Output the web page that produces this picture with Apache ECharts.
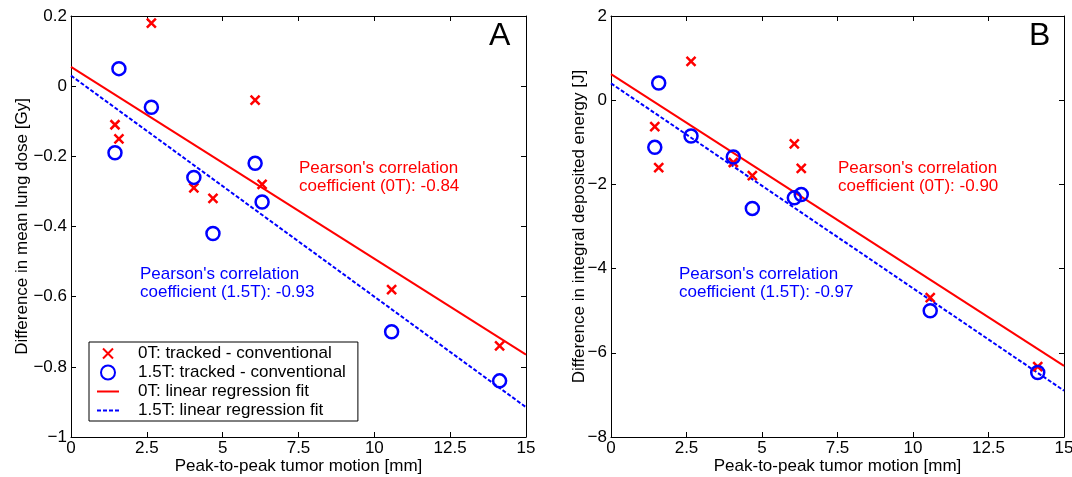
<!DOCTYPE html>
<html>
<head>
<meta charset="utf-8">
<script src="https://cdn.jsdelivr.net/npm/echarts@6/dist/echarts.min.js"></script>
<style>
  html, body { margin: 0; padding: 0; background: #fff; }
  #chart { width: 1072px; height: 477px; }
</style>
</head>
<body>
<div id="chart"></div>
<script>
// peak-to-peak motion [mm], same patients in both panels
var motion = [1.45, 1.58, 2.65, 4.05, 4.68, 6.07, 6.3, 10.57, 14.13];

// A: difference in mean lung dose [Gy]
var doseZeroT = [-0.11, -0.15, 0.18, -0.29, -0.32, -0.04, -0.28, -0.58, -0.74];
var doseOneFiveT = [-0.19, 0.05, -0.06, -0.26, -0.42, -0.22, -0.33, -0.70, -0.84];
var doseFitZeroT = [[0, 0.055], [15, -0.765]];
var doseFitOneFiveT = [[0, 0.03], [15, -0.915]];

// B: difference in integral deposited energy [J]
var energyZeroT = [-0.63, -1.60, 0.92, -1.48, -1.79, -1.04, -1.62, -4.69, -6.33];
var energyOneFiveT = [-1.12, 0.41, -0.85, -1.35, -2.57, -2.32, -2.24, -5.0, -6.47];
var energyFitZeroT = [[0, 0.62], [15, -6.31]];
var energyFitOneFiveT = [[0, 0.40], [15, -6.90]];

var xTicks = [0, 2.5, 5, 7.5, 10, 12.5, 15];

var FONT = '"Liberation Sans", Arial, sans-serif';
var FS = 17;
var RED = '#ff0000';
var BLUE = '#0000ff';
var crossPath = 'path://M0,0L10,10M10,0L0,10';
// legend icons: the leading / trailing moveTo keeps the 22x14 box
var crossIcon = 'path://M0,0M6,2L16,12M16,2L6,12M22,14';
var solidIcon = 'path://M0,0M0,6h22v2h-22zM22,14';
var dashIcon = 'path://M0,0M0,6h4v2h-4zM6,6h4v2h-4zM12,6h4v2h-4zM18,6h4v2h-4zM22,14';

function pairs(xs, ys) {
  return xs.map(function (x, i) { return [x, ys[i]]; });
}

function minusFmt(v) {
  var s = String(Math.round(v * 100) / 100);
  return s.replace('-', '\u2212');
}

function xAxisFor(gi, top) {
  return {
    type: 'value', gridIndex: gi, min: 0, max: 15, interval: 2.5,
    position: top ? 'top' : 'bottom',
    name: top ? '' : 'Peak-to-peak tumor motion [mm]',
    nameLocation: 'middle', nameGap: 21, nameMoveOverlap: false,
    nameTextStyle: { fontFamily: FONT, fontSize: FS, color: '#000' },
    axisLine: { show: true, onZero: false, lineStyle: { color: '#000', width: 1 } },
    axisTick: { show: true, inside: true, length: 5, lineStyle: { color: '#000' } },
    axisLabel: { show: !top, fontFamily: FONT, fontSize: FS, color: '#000', margin: 3,
      formatter: function (v) { return xTicks.indexOf(v) >= 0 ? String(v) : ''; } },
    splitLine: { show: false }
  };
}

function yAxisFor(gi, right, min, max, step, label, gap) {
  return {
    type: 'value', gridIndex: gi, min: min, max: max, interval: step,
    position: right ? 'right' : 'left',
    name: right ? '' : label,
    nameLocation: 'middle', nameGap: gap, nameMoveOverlap: false,
    nameTextStyle: { fontFamily: FONT, fontSize: FS, color: '#000' },
    axisLine: { show: true, onZero: false, lineStyle: { color: '#000', width: 1 } },
    axisTick: { show: true, inside: true, length: 5, lineStyle: { color: '#000' } },
    axisLabel: { show: !right, fontFamily: FONT, fontSize: FS, color: '#000', margin: 4,
      formatter: minusFmt },
    splitLine: { show: false }
  };
}

function fitSeries(name, gi, data, color, dashed) {
  return {
    name: name, type: 'line', xAxisIndex: gi * 2, yAxisIndex: gi * 2,
    data: data, symbol: 'none',
    lineStyle: { color: color, width: 2, type: dashed ? [4, 2] : 'solid' },
    itemStyle: { color: color }
  };
}

function crossSeries(name, gi, ys) {
  return {
    name: name, type: 'scatter', xAxisIndex: gi * 2, yAxisIndex: gi * 2,
    data: pairs(motion, ys), symbol: crossPath, symbolSize: 9,
    itemStyle: { color: RED, borderColor: RED, borderWidth: 2.5, opacity: 1 }, z: 5
  };
}

function circleSeries(name, gi, ys) {
  return {
    name: name, type: 'scatter', xAxisIndex: gi * 2, yAxisIndex: gi * 2,
    data: pairs(motion, ys), symbol: 'circle', symbolSize: 13,
    itemStyle: { color: 'rgba(0,0,0,0)', borderColor: BLUE, borderWidth: 2.5, opacity: 1 }, z: 5
  };
}

var chart = echarts.init(document.getElementById('chart'));

var option = {
  backgroundColor: '#fff',
  animation: false,
  grid: [
    { left: 71, top: 16, width: 455, height: 421, show: false, outerBoundsMode: 'none' },
    { left: 611, top: 16, width: 453, height: 421, show: false, outerBoundsMode: 'none' }
  ],
  xAxis: [xAxisFor(0, false), xAxisFor(0, true), xAxisFor(1, false), xAxisFor(1, true)],
  yAxis: [
    yAxisFor(0, false, -1, 0.2, 0.2, 'Difference in mean lung dose [Gy]', 40),
    yAxisFor(0, true, -1, 0.2, 0.2, '', 0),
    yAxisFor(1, false, -8, 2, 2, 'Difference in integral deposited energy [J]', 23),
    yAxisFor(1, true, -8, 2, 2, '', 0)
  ],
  legend: {
    left: 89, top: 342, orient: 'vertical', itemGap: 2,
    itemWidth: 22, itemHeight: 14,
    padding: [3, 12, 2, 7],
    borderColor: '#000', borderWidth: 1, backgroundColor: '#fff', borderRadius: 0,
    textStyle: { fontFamily: FONT, fontSize: FS, color: '#000', padding: [0, 0, 0, 14] },
    data: [
      { name: '0T: tracked - conventional', icon: crossIcon },
      { name: '1.5T: tracked - conventional' },
      { name: '0T: linear regression fit', icon: solidIcon },
      { name: '1.5T: linear regression fit', icon: dashIcon }
    ]
  },
  series: [
    fitSeries('0T: linear regression fit', 0, doseFitZeroT, RED, false),
    fitSeries('1.5T: linear regression fit', 0, doseFitOneFiveT, BLUE, true),
    crossSeries('0T: tracked - conventional', 0, doseZeroT),
    circleSeries('1.5T: tracked - conventional', 0, doseOneFiveT),

    fitSeries('0T: linear regression fit', 1, energyFitZeroT, RED, false),
    fitSeries('1.5T: linear regression fit', 1, energyFitOneFiveT, BLUE, true),
    crossSeries('0T: tracked - conventional', 1, energyZeroT),
    circleSeries('1.5T: tracked - conventional', 1, energyOneFiveT)
  ],
  graphic: [
    { type: 'text', left: 489, top: 20, style: { text: 'A', font: '32px ' + FONT, fill: '#000' } },
    { type: 'text', left: 1029, top: 20, style: { text: 'B', font: '32px ' + FONT, fill: '#000' } },
    { type: 'text', left: 299, top: 159, style: { text: "Pearson's correlation\ncoefficient (0T): -0.84",
      font: FS + 'px ' + FONT, fill: RED, lineHeight: 18 } },
    { type: 'text', left: 140, top: 265, style: { text: "Pearson's correlation\ncoefficient (1.5T): -0.93",
      font: FS + 'px ' + FONT, fill: BLUE, lineHeight: 18 } },
    { type: 'text', left: 838, top: 159, style: { text: "Pearson's correlation\ncoefficient (0T): -0.90",
      font: FS + 'px ' + FONT, fill: RED, lineHeight: 18 } },
    { type: 'text', left: 679, top: 265, style: { text: "Pearson's correlation\ncoefficient (1.5T): -0.97",
      font: FS + 'px ' + FONT, fill: BLUE, lineHeight: 18 } }
  ]
};

chart.setOption(option);
</script>
</body>
</html>
